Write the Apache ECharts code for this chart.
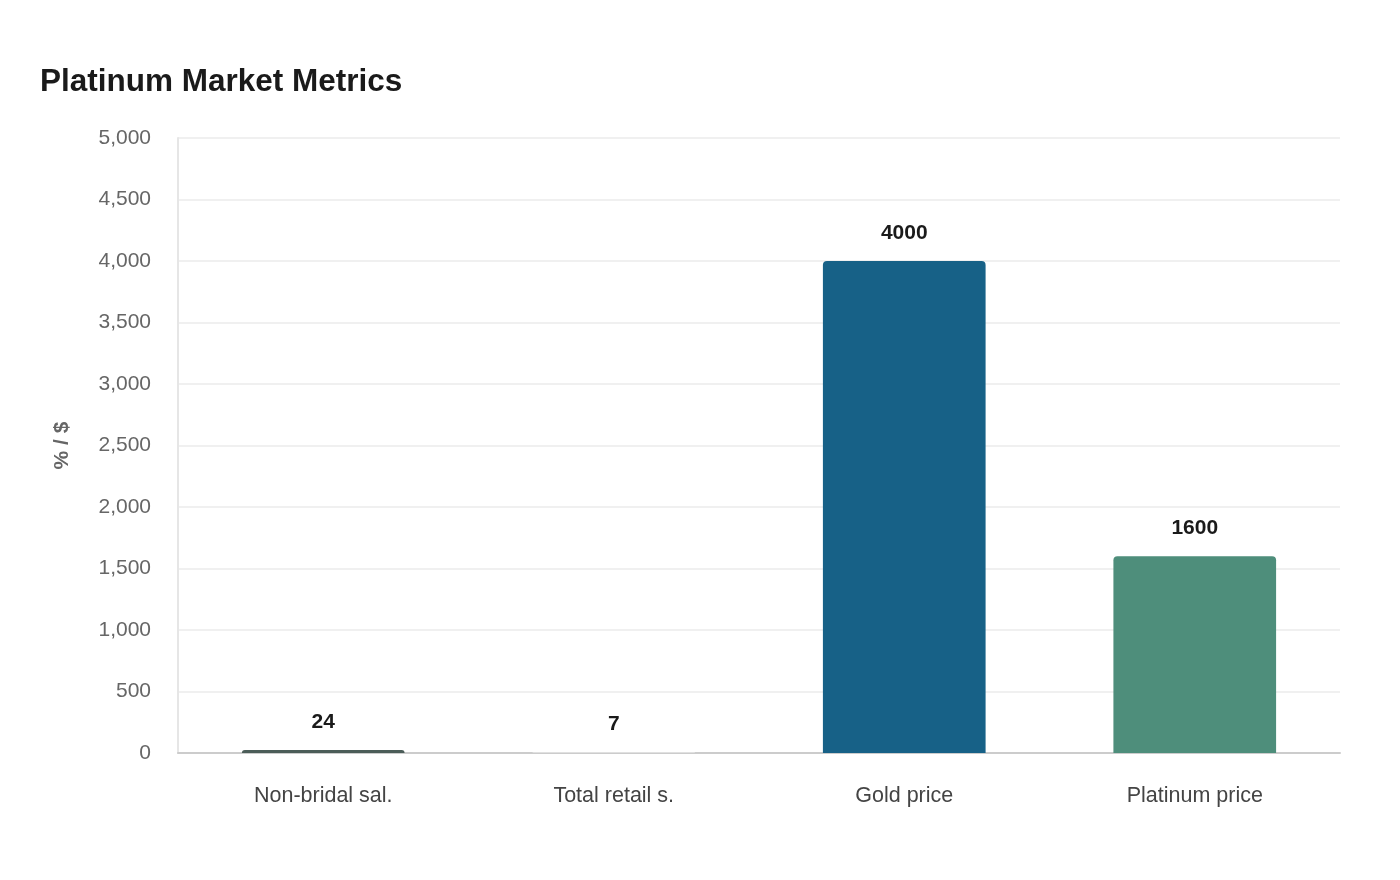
<!DOCTYPE html>
<html>
<head>
<meta charset="utf-8">
<title>Platinum Market Metrics</title>
<script src="https://cdn.jsdelivr.net/npm/echarts@6/dist/echarts.min.js"></script>
<style>
  html, body { margin: 0; padding: 0; background: #fff; }
  #main { width: 1400px; height: 880px; }
</style>
</head>
<body>
<div id="main"></div>
<script>
// data
var categories = ['Non-bridal sal.', 'Total retail s.', 'Gold price', 'Platinum price'];
var values = [24, 7, 4000, 1600];
var barColors = ['#4b5d58', '#e6e6e6', '#176187', '#4e8e7b'];

var myChart = echarts.init(document.getElementById('main'));

var option = {
    backgroundColor: '#fff',
    animation: false,
    title: {
        text: 'Platinum Market Metrics',
        left: 40,
        top: 66,
        padding: 0,
        textStyle: {
            fontFamily: 'Liberation Sans, Arial, sans-serif',
            fontSize: 31.5,
            fontWeight: 'bold',
            color: '#1a1a1a'
        }
    },
    grid: {
        left: 178,
        right: 60,
        top: 138,
        bottom: 127
    },
    xAxis: {
        type: 'category',
        data: categories,
        axisTick: { show: false },
        axisLine: { lineStyle: { color: '#cccccc', width: 2 } },
        axisLabel: {
            margin: 32,
            fontSize: 21.5,
            color: '#444',
            fontFamily: 'Liberation Sans, Arial, sans-serif'
        }
    },
    yAxis: {
        type: 'value',
        min: 0,
        max: 5000,
        interval: 500,
        name: '% / $',
        nameLocation: 'middle',
        nameGap: 105,
        nameTextStyle: {
            fontSize: 21,
            fontWeight: 'bold',
            color: '#666',
            fontFamily: 'Liberation Sans, Arial, sans-serif'
        },
        axisLine: { show: true, lineStyle: { color: '#e6e6e6', width: 2 } },
        axisTick: { show: false },
        splitLine: { lineStyle: { color: '#ebebeb', width: 1.5 } },
        axisLabel: {
            margin: 27,
            fontSize: 21,
            color: '#666',
            fontFamily: 'Liberation Sans, Arial, sans-serif',
            formatter: function (v) { return v.toLocaleString('en-US'); }
        }
    },
    series: [{
        type: 'bar',
        barWidth: '56%',
        data: values.map(function (v, i) {
            return { value: v, itemStyle: { color: barColors[i] } };
        }),
        itemStyle: { borderRadius: [4, 4, 0, 0] },
        label: {
            show: true,
            position: 'top',
            distance: 17,
            fontSize: 21,
            fontWeight: 'bold',
            color: '#1a1a1a',
            fontFamily: 'Liberation Sans, Arial, sans-serif'
        }
    }]
};

myChart.setOption(option);
</script>
</body>
</html>
